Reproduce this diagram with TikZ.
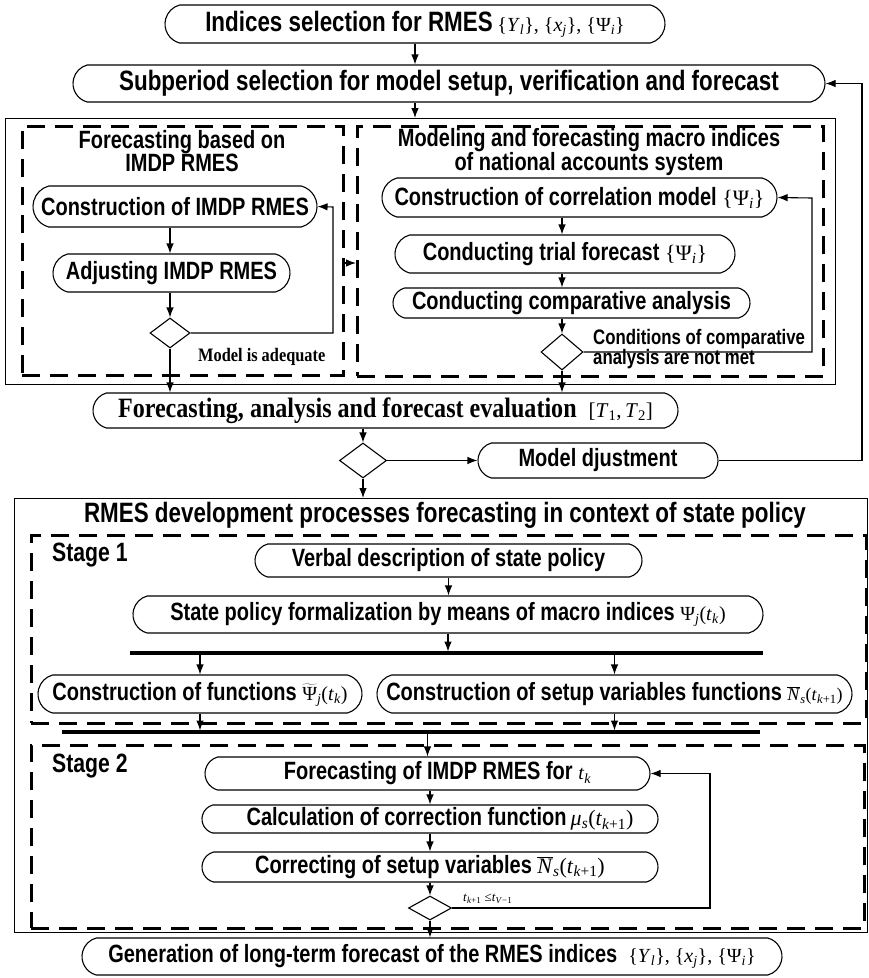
\documentclass[tikz,border=0pt]{standalone}
\usepackage{fontspec}
\usetikzlibrary{arrows.meta,shapes.misc,shapes.geometric,calc}
\newfontfamily\nsf{Liberation Sans}[FakeStretch=0.8]
\newfontfamily\nrm{Liberation Serif}[FakeStretch=0.86]
\newfontfamily\mrm{Liberation Serif}
\newcommand\fs[1]{\fontsize{#1}{#1}\selectfont}
\newcommand\mth[2][20]{{\mrm\mdseries\fontsize{#1}{#1}\selectfont #2}}
\newcommand\iv[1]{\textit{#1}}
\newcommand\subx[1]{\textsubscript{#1}}
\newcommand\Nbar{$\overline{\hbox{\iv{N}}}$}
\newcommand\Psitil{$\widetilde{\hbox{Ψ}}$}

\tikzset{
  pill/.style={draw, line width=1.1pt, rounded rectangle, rounded rectangle arc length=150,
    inner sep=0pt, font=\nsf\bfseries\fs{25}},
  frame/.style={draw, line width=0.9pt, inner sep=0pt, anchor=north west},
  dframe/.style={draw, line width=2.6pt, dash pattern=on 18pt off 10pt, inner sep=0pt, anchor=north west},
  dmd/.style={draw, diamond, line width=1.1pt, inner sep=0pt},
  arr/.style={-{Latex[length=10pt,width=7.5pt]}, line width=1.1pt},
  bar/.style={line width=4pt},
  ttl/.style={font=\nsf\bfseries\fontsize{25}{22}\selectfont, align=center, inner sep=0pt},
  stg/.style={font=\nsf\bfseries\fs{26.5}, anchor=west, inner sep=0pt},
  note/.style={font=\nsf\bfseries\fontsize{21}{18}\selectfont, align=left, anchor=west, inner sep=0pt},
}

\begin{document}
\begin{tikzpicture}[x=1pt,y=-1pt]
\useasboundingbox (0,0) rectangle (869,978);

% ---------- upper part ----------
\node[pill, minimum width=500pt, minimum height=38pt, font=\nsf\bfseries\fs{28}] (top) at (415,24)
  {Indices selection for RMES\,\mth{\{\iv{Y}\subx{\iv{l}}\}, \{\iv{x}\subx{\iv{j}}\}, \{Ψ\subx{\iv{i}}\}}};
\node[pill, minimum width=752pt, minimum height=37pt, font=\nsf\bfseries\fs{28}] (sub) at (449,83.5)
  {Subperiod selection for model setup, verification and forecast};

\node[frame, minimum width=830pt, minimum height=266pt] (outerA) at (5,118) {};
\node[dframe, minimum width=321pt, minimum height=249pt] (dashL) at (21,125) {};
\node[dframe, minimum width=466pt, minimum height=250pt] (dashR) at (356,125) {};

\node[ttl] (tL) at (182,151) {Forecasting based on\\IMDP RMES};
\node[ttl] (tR) at (589,152) {Modeling and forecasting macro indices\\of national accounts system};

\node[pill, minimum width=284pt, minimum height=41pt] (cimdp) at (175,206.5) {Construction of IMDP RMES};
\node[pill, minimum width=237pt, minimum height=38pt] (adj) at (171.5,273) {Adjusting IMDP RMES};
\node[dmd, minimum width=40pt, minimum height=30pt] (dL) at (170,333) {};
\node[font=\nrm\bfseries\fs{19}, anchor=west, inner sep=0pt] (okL) at (198,357) {Model is adequate};

\node[pill, minimum width=395pt, minimum height=39pt] (corr) at (579.5,197.5)
  {Construction of correlation model \mth[22]{\{Ψ\subx{\iv{i}}\}}};
\node[pill, minimum width=340pt, minimum height=38pt] (trial) at (565,254)
  {Conducting trial forecast \mth[22]{\{Ψ\subx{\iv{i}}\}}\hspace{28pt}};
\node[pill, minimum width=357pt, minimum height=30pt] (comp) at (571.5,303) {Conducting comparative analysis};
\node[dmd, minimum width=42pt, minimum height=36pt] (dR) at (562,352) {};
\node[note] (nR) at (593,349) {Conditions of comparative\\analysis are not met};

\coordinate (fbL) at (333,207);
\coordinate (fbR) at (812,198);
\coordinate (hA) at (0,263);

\draw[arr] (top.south) -- (top.south |- sub.north);
\draw[arr] (sub.south -| top.south) -- (top.south |- outerA.north);
\draw[arr] (cimdp.south -| dL) -- (adj.north -| dL);
\draw[arr] (adj.south -| dL) -- (dL.north);
\draw[arr] (dL.east) -| (fbL) -- (cimdp.east);
\draw[arr] (dashL.east |- hA) -- (dashR.west |- hA);
\draw[arr] (corr.south -| dR) -- (trial.north -| dR);
\draw[arr] (trial.south -| dR) -- (comp.north -| dR);
\draw[arr] (comp.south -| dR) -- (dR.north);
\draw[arr] (dR.east) -| (fbR) -- (corr.east);

% ---------- evaluation ----------
\node[pill, minimum width=585pt, minimum height=35pt, font=\nrm\bfseries\fs{28}] (fore) at (385.5,410.5)
  {Forecasting, analysis and forecast evaluation\hspace{12pt}\mth[21]{[\iv{T}\subx{1},\,\iv{T}\subx{2}]}\hspace{30pt}};
\node[dmd, minimum width=47pt, minimum height=35pt] (d2) at (363,460.5) {};
\node[pill, minimum width=240pt, minimum height=35pt] (madj) at (598,460.5) {Model djustment};
\coordinate (fbM) at (862,83.5);

\draw[arr] (dL.south) -- (dL.south |- fore.north);
\draw[arr] (dR.south) -- (dR.south |- fore.north);
\draw[arr] (fore.south -| d2) -- (d2.north);
\draw[arr] (d2.east) -- (madj.west);
\draw[arr] (madj.east) -| (fbM) -- (sub.east);

% ---------- state policy ----------
\node[frame, minimum width=853pt, minimum height=434pt] (outerB) at (14,498) {};
\draw[arr] (d2.south) -- (d2.south |- outerB.north);
\node[font=\nsf\bfseries\fs{28}, inner sep=0pt] (tB) at (445,515)
  {RMES development processes forecasting in context of state policy};

\node[dframe, minimum width=835pt, minimum height=188pt] (st1) at (30,534) {};
\node[stg] (s1) at (52,555) {Stage 1};
\node[pill, minimum width=387pt, minimum height=33pt] (verbal) at (448.5,560.5) {Verbal description of state policy};
\node[pill, minimum width=630pt, minimum height=37pt] (state) at (448,614.5)
  {State policy formalization by means of macro indices \mth{Ψ\subx{\iv{j}}(\iv{t}\subx{\iv{k}})}};
\coordinate (b1L) at (130,653);
\coordinate (b1R) at (763,653);
\draw[bar] (b1L) -- (b1R);
\node[pill, minimum width=324pt, minimum height=38pt] (cfun) at (200,694)
  {Construction of functions \mth{\Psitil\subx{\iv{j}}(\iv{t}\subx{\iv{k}})}};
\node[pill, minimum width=475pt, minimum height=38pt] (csetup) at (614.5,694)
  {Construction of setup variables functions \mth[18]{\Nbar\subx{\iv{s}}(\iv{t}\subx{\iv{k}+1})}};
\coordinate (b2L) at (62,732);
\coordinate (b2R) at (760,732);
\draw[bar] (b2L) -- (b2R);

\draw[arr] (verbal.south) -- (verbal.south |- state.north);
\draw[arr, shorten >=1.5pt] (state.south) -- (state.south |- b1L);
\draw[arr] (b1L -| cfun) -- (cfun.north);
\draw[arr] (b1L -| csetup) -- (csetup.north);
\draw[arr, shorten >=1.5pt] (cfun.south) -- (cfun.south |- b2L);
\draw[arr, shorten >=1.5pt] (csetup.south) -- (csetup.south |- b2L);

% ---------- stage 2 ----------
\node[dframe, minimum width=833pt, minimum height=183pt] (st2) at (30,744) {};
\node[stg] (s2) at (52,766) {Stage 2};
\node[pill, minimum width=445pt, minimum height=33pt] (fimdp) at (427.5,773.5)
  {\hspace{20pt}Forecasting of IMDP RMES for \mth{\iv{t}\subx{\iv{k}}}};
\node[pill, minimum width=456pt, minimum height=28pt] (calc) at (430,819)
  {\hspace{20pt}Calculation of correction function\,\mth[22]{\iv{μ}\subx{\iv{s}}(\iv{t}\subx{\iv{k}+1})}};
\node[pill, minimum width=456pt, minimum height=30pt] (corrset) at (430,867)
  {Correcting of setup variables \mth[22]{\Nbar\subx{\iv{s}}(\iv{t}\subx{\iv{k}+1})}};
\node[dmd, minimum width=43pt, minimum height=24pt] (d3) at (430,908) {};
\node[font=\mrm\fs{13}, anchor=west, inner sep=0pt] (cond) at (463,899)
  {\iv{t}\subx{\iv{k}+1} ≤\iv{t}\subx{\iv{V}−1}};
\coordinate (fbS) at (710,773.5);

\draw[arr] (b2L -| fimdp) -- (fimdp.north);
\draw[arr] (fimdp.south -| d3) -- (calc.north -| d3);
\draw[arr] (calc.south -| d3) -- (corrset.north -| d3);
\draw[arr] (corrset.south -| d3) -- (d3.north);
\draw[arr] (d3.east) -| (fbS) -- (fimdp.east);

% ---------- result ----------
\node[pill, minimum width=700pt, minimum height=37pt] (gen) at (432,956.5)
  {Generation of long-term forecast of the RMES indices \ \mth{\{\iv{Y}\subx{\iv{l}}\}, \{\iv{x}\subx{\iv{j}}\}, \{Ψ\subx{\iv{i}}\}}};
\draw[arr] (d3.south) -- (d3.south |- gen.north);
\end{tikzpicture}
\end{document}
